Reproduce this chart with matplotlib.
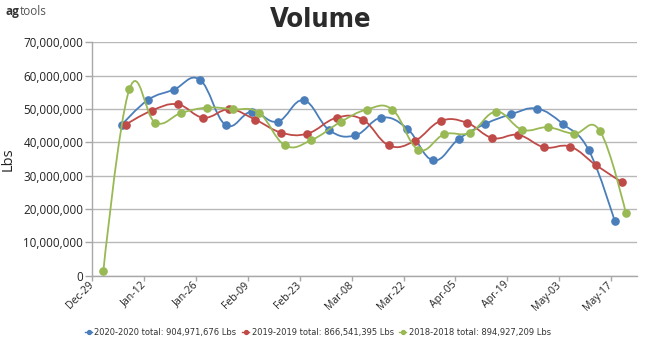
import matplotlib
matplotlib.use('Agg')

import matplotlib.pyplot as plt
import matplotlib.dates as mdates
from matplotlib.path import Path
from matplotlib.patches import PathPatch
from matplotlib.lines import Line2D
from matplotlib.ticker import FuncFormatter, MultipleLocator
import pandas as pd

plt.rcParams.update({
    'font.family': ['Open Sans', 'DejaVu Sans'],
    'font.size': 8,
    'axes.linewidth': 1.0,
})

# weekly volumes in millions of lbs, each year plotted on the 2020 calendar
starts = ['2020-01-06', '2019-01-07', '2018-01-01']
labels = ['2020-2020 total: 904,971,676 Lbs',
          '2019-2019 total: 866,541,395 Lbs',
          '2018-2018 total: 894,927,209 Lbs']
colors = ['#4a7ebb', '#be4b48', '#98b954']

vol_2020 = [45.3, 52.7, 55.8, 58.8, 45.2, 49.2, 46.2, 52.6, 43.6, 42.1,
            47.4, 44.1, 34.6, 41.1, 45.5, 48.4, 50.1, 45.5, 37.6, 16.3]
vol_2019 = [45.3, 49.5, 51.4, 47.4, 49.9, 46.8, 42.9, 42.6, 47.4, 46.8,
            39.1, 40.4, 46.4, 45.9, 41.3, 42.2, 38.5, 38.7, 33.1, 28.0]
vol_2018 = [1.5, 55.9, 45.9, 48.8, 50.4, 49.9, 48.8, 39.1, 40.6, 46.1, 49.8,
            49.8, 37.8, 42.4, 42.9, 49.2, 43.8, 44.5, 42.6, 43.4, 18.7]
volumes = [vol_2020, vol_2019, vol_2018]

x_start, x_end = '2019-12-29', '2020-05-24'
tick_dates = pd.date_range('2019-12-29', '2020-05-17', freq='14D')


def week_dates(start, n):
    d = pd.date_range(start, periods=n, freq='7D')
    return pd.to_datetime([t.replace(year=2020) for t in d])


def spline_path(xs, ys, smoothing=1.5):
    # cubic bezier spline through the points (control points like old Highcharts)
    n = len(xs)
    denom = smoothing + 1
    left, right = [None] * n, [None] * n
    for i in range(n):
        x, y = xs[i], ys[i]
        if 0 < i < n - 1:
            lx = (smoothing * x + xs[i - 1]) / denom
            ly = (smoothing * y + ys[i - 1]) / denom
            rx = (smoothing * x + xs[i + 1]) / denom
            ry = (smoothing * y + ys[i + 1]) / denom
            corr = (ry - ly) * (rx - x) / (rx - lx) + y - ry
            left[i], right[i] = (lx, ly + corr), (rx, ry + corr)
        else:
            left[i] = right[i] = (x, y)
    verts, codes = [(xs[0], ys[0])], [Path.MOVETO]
    for i in range(1, n):
        verts += [right[i - 1], left[i], (xs[i], ys[i])]
        codes += [Path.CURVE4] * 3
    return Path(verts, codes)


fig = plt.figure(figsize=(6.45, 3.38), dpi=100)
ax = fig.add_axes([92.3 / 645, 62.3 / 338, 544.7 / 645, 233.4 / 338])

handles = []
for k, (start, vals, col, lab) in enumerate(zip(starts, volumes, colors, labels)):
    dates = week_dates(start, len(vals))
    xs = mdates.date2num(dates)
    ax.add_patch(PathPatch(spline_path(list(xs), vals), facecolor='none',
                           edgecolor=col, lw=1.3, zorder=3 + 2 * k))
    ax.plot(dates, vals, 'o', color=col, ms=5.2, mec=col, zorder=4 + 2 * k)
    handles.append(Line2D([], [], color=col, lw=1.0, marker='o', ms=2.8, label=lab))

ax.set_xlim(pd.Timestamp(x_start), pd.Timestamp(x_end))
ax.set_ylim(0, 70)
ax.yaxis.set_major_locator(MultipleLocator(10))
ax.yaxis.set_major_formatter(FuncFormatter(lambda v, p: f'{v * 1e6:,.0f}'))
ax.set_xticks(tick_dates)
ax.xaxis.set_major_formatter(mdates.DateFormatter('%b-%d'))

ax.grid(axis='y', color='#b8b8b8', lw=1.0)
ax.set_axisbelow(True)
for s in ['top', 'right']:
    ax.spines[s].set_visible(False)
for s in ['left', 'bottom']:
    ax.spines[s].set_color('#a8a8a8')

ax.tick_params(axis='y', length=5, width=1, color='#a8a8a8', pad=1.5,
               labelsize=8.4, labelcolor='#222222')
ax.tick_params(axis='x', length=3.5, width=1, color='#a8a8a8', pad=2,
               labelsize=7.6, labelcolor='#222222')
for t in ax.get_xticklabels():
    t.set_rotation(45)
    t.set_ha('right')
    t.set_va('center')
    t.set_rotation_mode('anchor')

fig.text(8 / 645, 1 - 159 / 338, 'Lbs', rotation=90, ha='center', va='center',
         fontsize=10.5, color='#222222')

fig.text(321 / 645, 1 - 27 / 338, 'Volume', ha='center', va='baseline',
         fontsize=19.5, fontweight='bold', fontstretch='condensed', color='#2b2b2b',
         family=['DejaVu Sans'])

ag = fig.text(6 / 645, 1 - 15 / 338, 'ag', ha='left', va='baseline',
              fontsize=8.5, fontweight='bold', color='#333333')
ax.annotate('tools', xy=(1, 0), xycoords=ag, ha='left', va='bottom',
            fontsize=8.5, color='#555555')

fig.legend(handles=handles, loc='center', bbox_to_anchor=(318 / 645, 1 - 332 / 338),
           ncol=3, frameon=False, handlelength=0.8, handletextpad=0.3,
           columnspacing=0.7, borderaxespad=0,
           prop={'family': 'DejaVu Sans', 'size': 6.0}, labelcolor='#333333')

fig.savefig('out.png', dpi=100)
plt.close(fig)
